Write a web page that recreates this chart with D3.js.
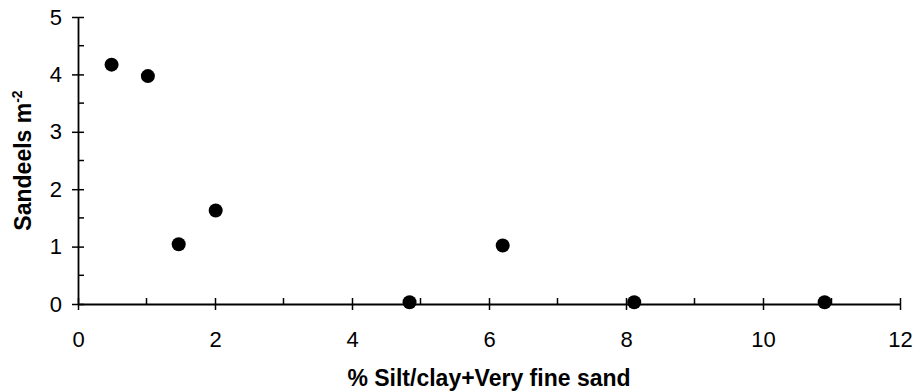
<!DOCTYPE html>
<html>
<head>
<meta charset="utf-8">
<script src="https://cdn.jsdelivr.net/npm/d3@7"></script>
<style>
  body { margin: 0; background: #fff; }
  svg { font-family: "Liberation Sans", Arial, sans-serif; }
</style>
</head>
<body>
<div id="root"></div>
<script>
// % silt/clay + very fine sand vs sandeel density
const siltPct = [0.49, 1.02, 1.47, 2.01, 4.84, 6.20, 8.12, 10.9];
const sandeels = [4.17, 3.97, 1.04, 1.63, 0.03, 1.02, 0.03, 0.03];
const xTicks = [0, 2, 4, 6, 8, 10, 12];
const yTicks = [0, 1, 2, 3, 4, 5];

const width = 915;
const height = 392;
const margin = { top: 17, left: 78, right: 15, bottom: 88 };
const dotRadius = 7;

const svg = d3.select("#root")
  .append("svg")
  .attr("width", width)
  .attr("height", height);

const xScale = d3.scaleLinear()
  .domain([0, 12])
  .range([margin.left, width - margin.right]);

const yScale = d3.scaleLinear()
  .domain([0, 5])
  .range([height - margin.bottom, margin.top]);

// minor ticks sit inside the plot only, major ones cross the axis
const xMinor = d3.range(1, 12, 2);
const yMinor = d3.range(0.5, 5, 1);

svg.append("g")
  .attr("transform", `translate(0, ${yScale(0)})`)
  .call(g => g.selectAll("line.minor")
    .data(xMinor)
    .join("line")
    .attr("class", "minor")
    .attr("x1", d => xScale(d))
    .attr("x2", d => xScale(d))
    .attr("y1", 0)
    .attr("y2", -6)
    .attr("stroke", "#000")
    .attr("stroke-width", 1.5));

svg.append("g")
  .attr("transform", `translate(${xScale(0)}, 0)`)
  .call(g => g.selectAll("line.minor")
    .data(yMinor)
    .join("line")
    .attr("class", "minor")
    .attr("x1", 0)
    .attr("x2", 6)
    .attr("y1", d => yScale(d))
    .attr("y2", d => yScale(d))
    .attr("stroke", "#000")
    .attr("stroke-width", 1.5));

const xAxis = svg.append("g")
  .attr("transform", `translate(0, ${yScale(0)})`)
  .call(d3.axisBottom(xScale)
    .tickValues(xTicks)
    .tickFormat(d3.format("d"))
    .tickSize(6)
    .tickSizeOuter(0)
    .tickPadding(21));

xAxis.selectAll(".tick line")
  .attr("y1", -6);

const yAxis = svg.append("g")
  .attr("transform", `translate(${xScale(0)}, 0)`)
  .call(d3.axisLeft(yScale)
    .tickValues(yTicks)
    .tickFormat(d3.format("d"))
    .tickSize(6)
    .tickSizeOuter(0)
    .tickPadding(10));

yAxis.selectAll(".tick line")
  .attr("x1", 6);

[xAxis, yAxis].forEach(g => {
  g.select(".domain").attr("stroke", "#000").attr("stroke-width", 1.8);
  g.selectAll(".tick line").attr("stroke", "#000").attr("stroke-width", 1.5);
  g.selectAll(".tick text")
    .attr("fill", "#000")
    .style("font-size", "22px");
});

svg.append("text")
  .attr("x", (xScale(0) + xScale(12)) / 2)
  .attr("y", 386)
  .attr("text-anchor", "middle")
  .style("font-size", "23px")
  .style("font-weight", "bold")
  .text("% Silt/clay+Very fine sand");

const yLabelX = 31;
const yLabelY = (yScale(0) + yScale(5)) / 2;

const yLabel = svg.append("text")
  .attr("x", yLabelX)
  .attr("y", yLabelY)
  .attr("transform", `rotate(-90, ${yLabelX}, ${yLabelY})`)
  .attr("text-anchor", "middle")
  .style("font-size", "23px")
  .style("font-weight", "bold");

yLabel.append("tspan").text("Sandeels m");
yLabel.append("tspan")
  .attr("dy", -9)
  .style("font-size", "14px")
  .text("-2");

svg.append("g")
  .selectAll("circle")
  .data(siltPct.map((x, i) => ({ x, y: sandeels[i] })))
  .join("circle")
  .attr("cx", d => xScale(d.x))
  .attr("cy", d => yScale(d.y))
  .attr("r", dotRadius)
  .attr("fill", "#000");
</script>
</body>
</html>
